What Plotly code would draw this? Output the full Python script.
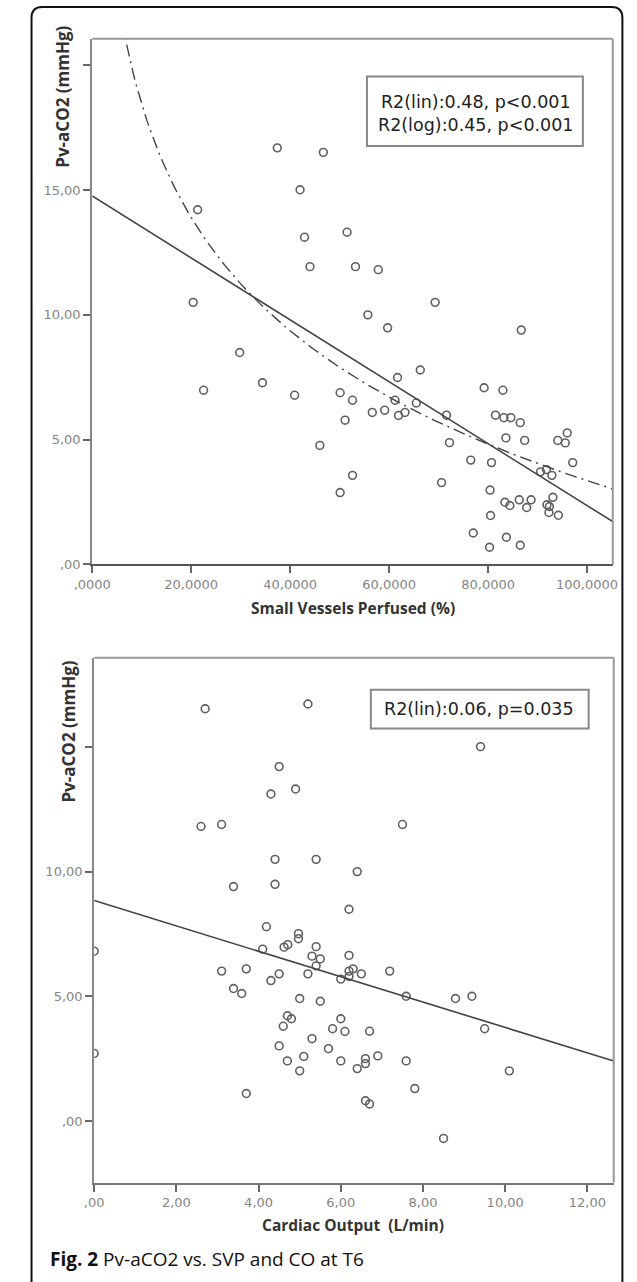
import plotly.graph_objects as go
import math

# ---------------- data ----------------
svp_x = [37.4, 46.7, 42.0, 21.3, 42.9, 51.5, 44.0, 53.2, 57.8, 20.4, 69.3, 55.7,
         59.7, 86.7, 29.8, 66.3, 61.7, 34.4, 22.5, 79.2, 83.0, 40.9, 50.1, 52.6,
         61.2, 65.5, 56.6, 59.1, 61.9, 63.2, 71.6, 81.5, 83.2, 84.6, 86.5, 51.1,
         83.6, 87.4, 94.1, 96.0, 95.6, 72.2, 46.0, 76.5, 80.7, 97.1, 91.8, 90.6,
         92.9, 52.6, 70.6, 50.1, 80.4, 83.4, 84.4, 86.3, 88.7, 87.8, 93.1, 91.9,
         92.4, 92.3, 94.2, 80.5, 77.0, 83.7, 80.3, 86.5]
svp_y = [16.69, 16.51, 15.01, 14.21, 13.11, 13.31, 11.93, 11.93, 11.81, 10.50, 10.50, 10.00,
         9.48, 9.39, 8.49, 7.79, 7.49, 7.28, 6.98, 7.08, 6.98, 6.78, 6.88, 6.58,
         6.58, 6.47, 6.09, 6.18, 5.97, 6.09, 5.98, 5.98, 5.88, 5.88, 5.68, 5.78,
         5.07, 4.97, 4.97, 5.27, 4.87, 4.88, 4.77, 4.18, 4.08, 4.08, 3.80, 3.71,
         3.57, 3.57, 3.28, 2.88, 2.98, 2.49, 2.36, 2.59, 2.59, 2.28, 2.69, 2.39,
         2.32, 2.08, 1.97, 1.96, 1.26, 1.09, 0.69, 0.77]

co_x = [2.70, 5.20, 9.40, 4.50, 4.30, 4.90, 2.60, 3.10, 7.50, 4.40, 5.40, 6.40,
        3.39, 4.40, 6.20, 4.19, 4.97, 4.97, 4.71, 4.62, 5.40, 4.10, 0.00, 6.20,
        5.30, 5.50, 5.40, 3.10, 3.70, 4.50, 4.30, 5.20, 6.20, 6.30, 6.20, 6.50,
        7.19, 6.00, 3.39, 3.59, 5.00, 5.50, 7.59, 8.79, 9.19, 4.70, 4.80, 4.60,
        6.00, 5.80, 6.10, 6.70, 9.50, 5.30, 4.50, 5.70, 0.00, 5.10, 6.90, 6.60,
        6.60, 4.70, 6.00, 7.59, 6.40, 5.00, 10.10, 3.70, 7.80, 6.60, 6.70, 8.50]
co_y = [16.53, 16.72, 15.01, 14.21, 13.11, 13.31, 11.81, 11.89, 11.89, 10.49, 10.49, 10.00,
        9.40, 9.49, 8.49, 7.79, 7.51, 7.31, 7.07, 6.97, 6.99, 6.89, 6.81, 6.64,
        6.61, 6.50, 6.22, 6.01, 6.10, 5.90, 5.63, 5.90, 6.01, 6.10, 5.80, 5.90,
        6.01, 5.69, 5.31, 5.11, 4.91, 4.80, 5.00, 4.91, 5.00, 4.22, 4.10, 3.80,
        4.10, 3.70, 3.59, 3.60, 3.70, 3.30, 3.01, 2.90, 2.71, 2.59, 2.61, 2.50,
        2.30, 2.41, 2.41, 2.41, 2.10, 2.01, 2.01, 1.10, 1.30, 0.81, 0.68, -0.70]

# fitted model coefficients
svp_lin = (14.76, -0.124)      # intercept, slope
svp_log = (33.52, -6.55)       # a + b*ln(x)
co_lin = (8.84, -0.509)

svp_xticks = [0, 20, 40, 60, 80, 100]
svp_xticktext = [",0000", "20,0000", "40,0000", "60,0000", "80,0000", "100,0000"]
svp_yticks = [0, 5, 10, 15, 20]
svp_yticktext = [",00", "5,00", "10,00", "15,00", ""]
co_xticks = [0, 2, 4, 6, 8, 10, 12]
co_xticktext = [",00", "2,00", "4,00", "6,00", "8,00", "10,00", "12,00"]
co_yticks = [0, 5, 10, 15]
co_yticktext = [",00", "5,00", "10,00", ""]

svp_xrange = [0, 105.2]
svp_yrange = [0, 21.06]
co_xrange = [0, 12.64]
co_yrange = [-2.47, 18.57]

svp_stats = ["R2(lin):0.48, p&lt;0.001", "R2(log):0.45, p&lt;0.001"]
co_stats = ["R2(lin):0.06, p=0.035"]

# ---------------- layout helpers ----------------
W, H = 637, 1282
def px(x):
    return x / W
def py(y):
    return 1 - y / H

fig = go.Figure()

mk = dict(symbol="circle-open", size=7.8, color="#606060", line=dict(width=1.6, color="#606060"))

fig.add_trace(go.Scatter(x=svp_x, y=svp_y, mode="markers", marker=mk,
                         xaxis="x", yaxis="y", showlegend=False))
lx = [svp_xrange[0], svp_xrange[1]]
fig.add_trace(go.Scatter(x=lx, y=[svp_lin[0] + svp_lin[1] * v for v in lx], mode="lines",
                         line=dict(color="#444444", width=1.6), xaxis="x", yaxis="y", showlegend=False))
n = 200
gx = [0.5 + (svp_xrange[1] - 0.5) * i / (n - 1) for i in range(n)]
fig.add_trace(go.Scatter(x=gx, y=[svp_log[0] + svp_log[1] * math.log(v) for v in gx], mode="lines",
                         line=dict(color="#444444", width=1.4, dash="12px,5px,2px,5px"),
                         xaxis="x", yaxis="y", showlegend=False))

fig.add_trace(go.Scatter(x=co_x, y=co_y, mode="markers", marker=mk,
                         xaxis="x2", yaxis="y2", showlegend=False))
cx = [co_xrange[0], co_xrange[1]]
fig.add_trace(go.Scatter(x=cx, y=[co_lin[0] + co_lin[1] * v for v in cx], mode="lines",
                         line=dict(color="#444444", width=1.6), xaxis="x2", yaxis="y2", showlegend=False))

tickfont = dict(family="DejaVu Sans, sans-serif", size=13, color="#858585")

top = dict(l=76, r=616, t=39, b=568)
bot = dict(l=78, r=617, t=662, b=1190)

def axes(d, xr, yr, xt, xtt, yt, ytt, xline):
    xa = dict(domain=[px(d["l"]), px(d["r"])], range=xr, tickvals=xt, ticktext=xtt,
              ticks="outside", ticklen=7, tickwidth=1.5, tickcolor="#666666",
              showline=True, linecolor=xline, linewidth=2, mirror=False,
              showgrid=False, zeroline=False, tickfont=tickfont, fixedrange=True)
    ya = dict(domain=[py(d["b"]), py(d["t"])], range=yr, tickvals=yt, ticktext=ytt,
              ticks="outside", ticklen=7, tickwidth=1.5, tickcolor="#666666",
              showline=True, linecolor="#888888", linewidth=2, mirror=False,
              showgrid=False, zeroline=False, tickfont=tickfont, fixedrange=True)
    return xa, ya

xa1, ya1 = axes(top, svp_xrange, svp_yrange, svp_xticks, svp_xticktext, svp_yticks, svp_yticktext, "#555555")
xa2, ya2 = axes(bot, co_xrange, co_yrange, co_xticks, co_xticktext, co_yticks, co_yticktext, "#777777")
ya1["anchor"] = "x"; xa1["anchor"] = "y"
xa2["anchor"] = "y2"; ya2["anchor"] = "x2"

shapes = []
for d in (top, bot):
    shapes.append(dict(type="line", xref="paper", yref="paper", x0=px(d["l"]), x1=px(d["r"]),
                       y0=py(d["t"]), y1=py(d["t"]), line=dict(color="#999999", width=2)))
    shapes.append(dict(type="line", xref="paper", yref="paper", x0=px(d["r"]), x1=px(d["r"]),
                       y0=py(d["t"]), y1=py(d["b"]), line=dict(color="#999999", width=2)))
# statistics boxes
shapes.append(dict(type="rect", xref="paper", yref="paper", x0=px(361), x1=px(585),
                   y0=py(147), y1=py(77), line=dict(color="#888888", width=2)))
shapes.append(dict(type="rect", xref="paper", yref="paper", x0=px(365), x1=px(591),
                   y0=py(733), y1=py(694), line=dict(color="#888888", width=2)))
# outer rounded border
r = 11
L, R, T, B = 13, 626, 7, 1300
path = (f"M {px(L)},{py(B)} L {px(L)},{py(T + r)} Q {px(L)},{py(T)} {px(L + r)},{py(T)} "
        f"L {px(R - r)},{py(T)} Q {px(R)},{py(T)} {px(R)},{py(T + r)} L {px(R)},{py(B)}")
shapes.append(dict(type="path", xref="paper", yref="paper", path=path,
                   line=dict(color="#111111", width=2)))

boxfont = dict(family="DejaVu Sans, sans-serif", size=17.5, color="#222222")
titlefont = dict(family="Open Sans, sans-serif", size=15.5, color="#333333")
ytitlefont = dict(family="Open Sans, sans-serif", size=17, color="#333333")

annotations = [
    dict(x=px(474), y=py(114.5), xref="paper", yref="paper", showarrow=False,
         text="<br>".join(svp_stats), font=boxfont, xanchor="center", yanchor="middle"),
    dict(x=px(477), y=py(713.5), xref="paper", yref="paper", showarrow=False,
         text=co_stats[0], font=boxfont, xanchor="center", yanchor="middle"),
    dict(x=px(45), y=py(97), xref="paper", yref="paper", showarrow=False, textangle=-90,
         text="<b>Pv-aCO2 (mmHg)</b>", font=ytitlefont, xanchor="center", yanchor="middle"),
    dict(x=px(51), y=py(736), xref="paper", yref="paper", showarrow=False, textangle=-90,
         text="<b>Pv-aCO2 (mmHg)</b>", font=ytitlefont, xanchor="center", yanchor="middle"),
    dict(x=px(346), y=py(612), xref="paper", yref="paper", showarrow=False,
         text="<b>Small Vessels Perfused (%)</b>", font=titlefont, xanchor="center", yanchor="middle"),
    dict(x=px(347), y=py(1233), xref="paper", yref="paper", showarrow=False,
         text="<b>Cardiac Output&nbsp; (L/min)</b>", font=titlefont, xanchor="center", yanchor="middle"),
    dict(x=px(30), y=py(1267), xref="paper", yref="paper", showarrow=False,
         text="<b>Fig. 2</b> Pv-aCO2 vs. SVP and CO at T6",
         font=dict(family="Open Sans, sans-serif", size=19, color="#111111"),
         xanchor="left", yanchor="middle"),
]

fig.update_layout(
    width=W, height=H, margin=dict(l=0, r=0, t=0, b=0),
    paper_bgcolor="white", plot_bgcolor="white",
    xaxis=xa1, yaxis=ya1, xaxis2=xa2, yaxis2=ya2,
    shapes=shapes, annotations=annotations, showlegend=False,
)

fig.write_html("out.html", config={"displayModeBar": False},
               post_script="document.body.style.margin='0';")
